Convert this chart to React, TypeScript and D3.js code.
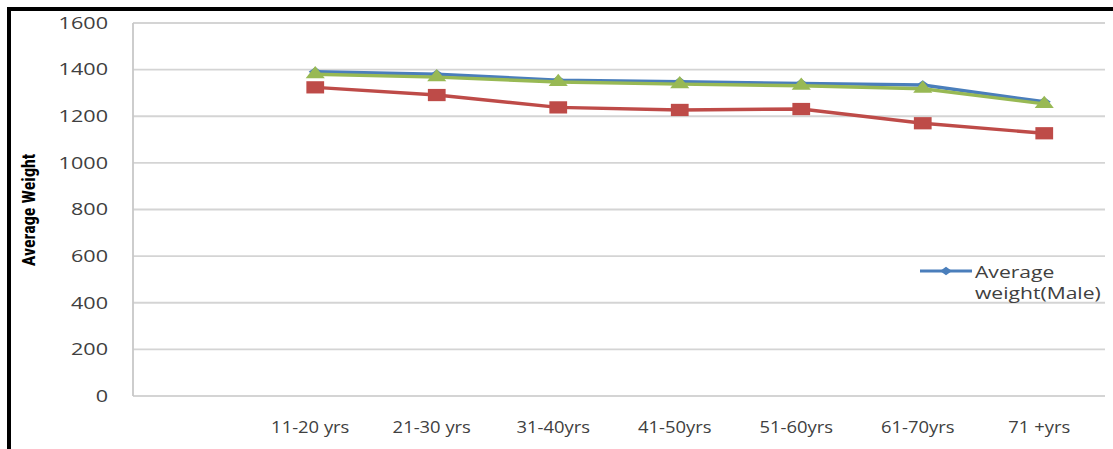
import * as d3 from 'd3';

const categories = ['', '11-20 yrs', '21-30 yrs', '31-40yrs', '41-50yrs', '51-60yrs', '61-70yrs', '71 +yrs'];
const maleWeight = [null, 1391, 1380, 1355, 1348, 1341, 1334, 1262];
const femaleWeight = [null, 1324, 1291, 1238, 1227, 1231, 1170, 1127];
const averageWeight = [null, 1380, 1368, 1347, 1338, 1331, 1318, 1253];
const yTicks = [0, 200, 400, 600, 800, 1000, 1200, 1400, 1600];

const W = 1113;
const H = 449;
const plot = { left: 133, right: 1105, top: 23, bottom: 396 };

const x = d3.scaleBand<string>().domain(categories).range([plot.left, plot.right]);
const y = d3.scaleLinear().domain([0, 1600]).range([plot.bottom, plot.top]);

const cx = (i: number) => (x(categories[i]) as number) + x.bandwidth() / 2;

type Pt = { i: number; v: number };
const toPts = (vals: (number | null)[]) =>
  vals.map((v, i) => ({ i, v })).filter((d) => d.v !== null) as Pt[];

const line = d3
  .line<Pt>()
  .x((d) => cx(d.i))
  .y((d) => y(d.v));

// the source image is stretched sideways, so markers and text get a wider x scale
const series = [
  {
    name: 'Average weight(Male)',
    color: '#4a7ebb',
    values: maleWeight,
    symbol: d3.symbolSquare,
    size: 44,
    shape: 'scale(1.4,1) rotate(45)',
  },
  {
    name: 'Average weight(Female)',
    color: '#be4b48',
    values: femaleWeight,
    symbol: d3.symbolSquare,
    size: 150,
    shape: 'scale(1.45,1)',
  },
  {
    name: 'Average weight',
    color: '#98b954',
    values: averageWeight,
    symbol: d3.symbolTriangle,
    size: 120,
    shape: 'scale(1.15,0.85)',
  },
];

const font = "'Open Sans', 'DejaVu Sans', sans-serif";

const App = () => {
  const legend = series[0];
  return (
    <svg width={W} height={H} style={{ position: 'absolute', left: 0, top: 0, background: '#fff' }}>
      {/* frame */}
      <line x1={9} x2={9} y1={7} y2={H} stroke="#000" strokeWidth={4} />
      <line x1={7} x2={W} y1={9} y2={9} stroke="#000" strokeWidth={4} />

      {/* grid */}
      {yTicks.map((t) => (
        <g key={t}>
          <line x1={plot.left} x2={plot.right} y1={y(t)} y2={y(t)} stroke="#d4d4d4" strokeWidth={1.8} />
          <text
            transform={`translate(108,${y(t)}) scale(1.35,1)`}
            dy="0.36em"
            textAnchor="end"
            fontFamily={font}
            fontSize={16}
            fill="#404040"
          >
            {t}
          </text>
        </g>
      ))}
      <line x1={plot.left} x2={plot.left} y1={plot.top} y2={plot.bottom} stroke="#c8c8c8" strokeWidth={1.8} />

      {/* x labels */}
      {categories.map((c, i) => (
        <text
          key={i}
          transform={`translate(${cx(i) - 5},427) scale(1.15,1)`}
          dy="0.36em"
          textAnchor="middle"
          fontFamily={font}
          fontSize={16}
          fill="#404040"
        >
          {c}
        </text>
      ))}

      {/* y title */}
      <text
        transform={`translate(35,210) rotate(-90)`}
        textAnchor="middle"
        fontFamily="'Liberation Sans Narrow', 'Roboto Condensed', sans-serif"
        fontWeight="bold"
        fontSize={18}
        fill="#000"
      >
        Average Weight
      </text>

      {/* series */}
      {series.map((s) => {
        const pts = toPts(s.values);
        const sym = d3.symbol().type(s.symbol).size(s.size)() as string;
        return (
          <g key={s.name}>
            <path d={line(pts) as string} fill="none" stroke={s.color} strokeWidth={3.4} />
            {pts.map((p) => (
              <path
                key={p.i}
                d={sym}
                transform={`translate(${cx(p.i)},${y(p.v)}) ${s.shape}`}
                fill={s.color}
              />
            ))}
          </g>
        );
      })}

      {/* legend (clipped like the source) */}
      <g>
        <line x1={920} x2={972} y1={271} y2={271} stroke={legend.color} strokeWidth={3.2} />
        <path
          d={d3.symbol().type(legend.symbol).size(36)() as string}
          transform={`translate(946,271) ${legend.shape}`}
          fill={legend.color}
        />
        <text transform="translate(975,278) scale(1.32,1)" fontFamily={font} fontSize={16} fill="#404040">
          Average
        </text>
        <text transform="translate(975,299) scale(1.32,1)" fontFamily={font} fontSize={16} fill="#404040">
          weight(Male)
        </text>
      </g>
    </svg>
  );
};

export default App;
